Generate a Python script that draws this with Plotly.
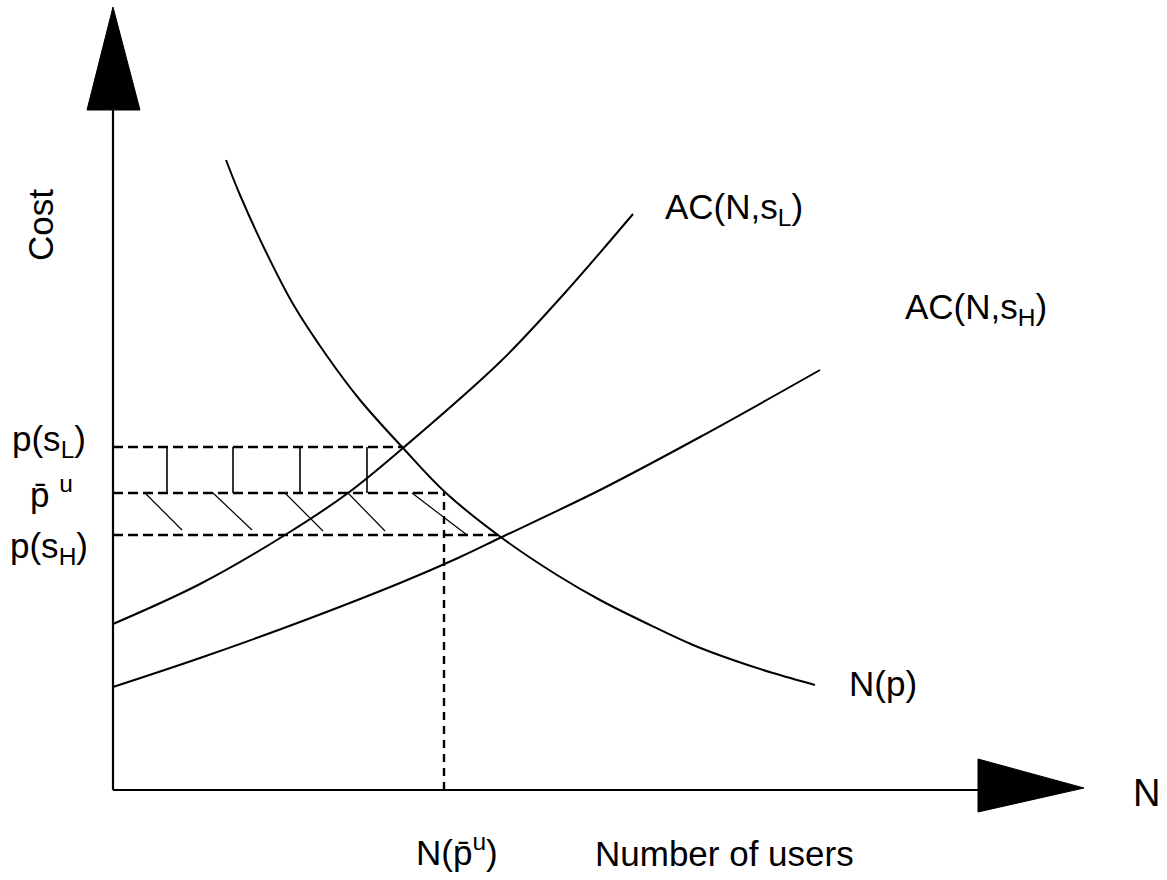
import plotly.graph_objects as go

# ---------------- data (x = number of users N, y = cost) ----------------
ac_L_x = [0.00, 0.87, 1.72, 2.35, 2.90, 3.87, 4.50, 5.20]
ac_L_y = [1.66, 2.06, 2.55, 2.97, 3.42, 4.28, 4.95, 5.76]

ac_H_x = [0.00, 0.87, 1.87, 2.87, 3.45, 3.89, 4.87, 5.87, 7.07]
ac_H_y = [1.03, 1.32, 1.68, 2.07, 2.32, 2.53, 3.00, 3.53, 4.20]

demand_x = [1.13, 1.27, 1.54, 1.80, 2.14, 2.47, 2.90, 3.33, 3.89, 4.44, 4.87, 5.37, 5.80, 6.20, 6.60, 7.02]
demand_y = [6.30, 5.95, 5.36, 4.86, 4.34, 3.90, 3.42, 2.97, 2.52, 2.15, 1.90, 1.65, 1.45, 1.30, 1.17, 1.05]

price_levels = [3.43, 2.97, 2.55]          # p(s_L), p-bar^u, p(s_H)
price_ends = [2.90, 3.31, 3.89]            # where each dashed level ends
n_bar = 3.31                               # N(p-bar^u)

hatch_v_x = [0.54, 1.20, 1.87, 2.54]       # vertical hatch between p-bar and p(s_L)
hatch_d_x0 = [0.32, 1.00, 1.72, 2.35, 2.99]
hatch_d_x1 = [0.69, 1.39, 2.10, 2.72, 3.54]
hatch_d_y1 = [2.60, 2.60, 2.59, 2.59, 2.55]

y_axis_top = 6.80
x_axis_end = 8.65
y_arrow = {"x": [-0.26, 0.27, 0.00], "y": [6.80, 6.80, 7.83]}
x_arrow = {"x": [8.65, 8.65, 9.71], "y": [0.31, -0.22, 0.02]}

labels = [
    # text, x, y, xanchor, size, angle
    ("Cost", -0.73, 5.65, "center", 35, -90),
    ("p(s<sub>L</sub>)", -0.64, 3.49, "center", 35, 0),
    ("p\u0304 <sup>u</sup>", -0.62, 2.98, "center", 35, 0),
    ("p(s<sub>H</sub>)", -0.64, 2.42, "center", 35, 0),
    ("AC(N,s<sub>L</sub>)", 5.50, 5.81, "left", 35, 0),
    ("AC(N,s<sub>H</sub>)", 7.90, 4.81, "left", 35, 0),
    ("N(p)", 7.34, 1.07, "left", 35, 0),
    ("N", 10.33, -0.03, "center", 38, 0),
    ("N(p\u0304<sup>u</sup>)", 3.44, -0.60, "center", 35, 0),
    ("Number of users", 6.11, -0.63, "center", 35, 0),
]

FONT = "Liberation Sans, Arial, Helvetica, sans-serif"
BLACK = "#000000"

fig = go.Figure()

def line(xs, ys, width=2.0, dash="solid", shape="linear"):
    fig.add_trace(go.Scatter(x=xs, y=ys, mode="lines", hoverinfo="skip",
                             line=dict(color=BLACK, width=width, dash=dash, shape=shape)))

# axes
line([0, 0], [0, y_axis_top], width=2.2)
line([0, x_axis_end], [0, 0], width=2.2)
for arr in (y_arrow, x_arrow):
    fig.add_trace(go.Scatter(x=arr["x"] + arr["x"][:1], y=arr["y"] + arr["y"][:1],
                             mode="lines", fill="toself", fillcolor=BLACK,
                             line=dict(color=BLACK, width=1), hoverinfo="skip"))

# dashed price levels and N(p-bar)
for p, xe in zip(price_levels, price_ends):
    line([0, xe], [p, p], width=2.4, dash="10px,5px")
line([n_bar, n_bar], [0, price_levels[1]], width=2.4, dash="8px,6px")

# hatching
for hx in hatch_v_x:
    line([hx, hx], [price_levels[1], price_levels[0]], width=1.6)
for x0, x1, y1 in zip(hatch_d_x0, hatch_d_x1, hatch_d_y1):
    line([x0, x1], [price_levels[1], y1], width=1.2)

# curves
line(ac_L_x, ac_L_y, width=2.0, shape="spline")
line(ac_H_x, ac_H_y, width=2.0, shape="spline")
line(demand_x, demand_y, width=2.0, shape="spline")

for text, x, y, xa, size, ang in labels:
    fig.add_annotation(x=x, y=y, text=text, showarrow=False, xanchor=xa, yanchor="middle",
                       textangle=ang, font=dict(family=FONT, size=size, color=BLACK))

fig.update_layout(
    width=1167, height=880,
    margin=dict(l=0, r=0, t=0, b=0),
    paper_bgcolor="white", plot_bgcolor="white",
    showlegend=False,
    xaxis=dict(range=[-1.13, 10.54], visible=False, fixedrange=True),
    yaxis=dict(range=[-0.90, 7.90], visible=False, fixedrange=True),
)

fig.write_html("out.html", config={"displayModeBar": False},
               post_script="document.body.style.margin='0px';document.body.style.overflow='hidden';")
